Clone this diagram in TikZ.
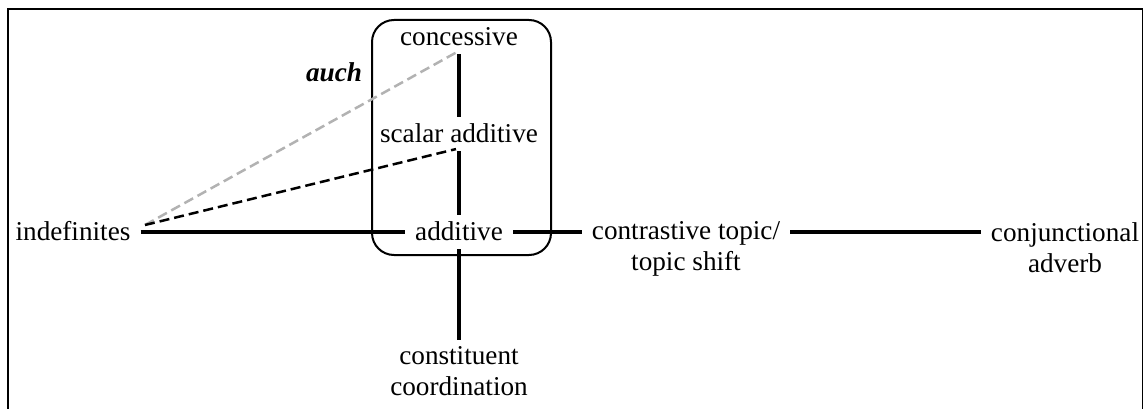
\documentclass[tikz,border=0pt]{standalone}
\usepackage{fontspec}
\setmainfont{Liberation Serif}
\usetikzlibrary{calc}
\begin{document}
\begin{tikzpicture}[x=1pt,y=-1pt,
  lbl/.style={font=\fontsize{27.2}{31.3}\selectfont, inner xsep=10pt, inner ysep=6pt},
  one/.style={lbl, text height=19pt, text depth=2.7pt},
  multi/.style={lbl, align=center, anchor=north},
  conn/.style={line width=3.3pt},
  dashblack/.style={line width=2.5pt, dash pattern=on 10pt off 5pt},
  dashgray/.style={line width=2.5pt, dash pattern=on 10pt off 5pt, draw=gray!60},
  groupbox/.style={draw, line width=2pt, rounded corners=22pt, minimum width=179pt, minimum height=235pt, inner sep=0pt}]
\useasboundingbox (0,0) rectangle (1146,409);
% frame
\draw[line width=1.5pt] (8,409) -- (8,9) -- (1142.5,9) -- (1142.5,409);
% group box
\node[groupbox] (grp) at (461.5,137.5) {};
% nodes
\node[one] (conc) at (459,37) {concessive};
\node[one] (scal) at (459,134) {scalar additive};
\node[one] (add) at (459,232) {additive};
\node[one] (indef) at (73,232) {indefinites};
\node[multi] (contr) at (686,215) {contrastive topic/\\topic shift};
\node[multi] (conj) at (1065,216) {conjunctional\\adverb};
\node[multi] (const) at (459,340) {constituent\\coordination};
\node[font=\fontsize{27.2}{31.3}\selectfont\bfseries\itshape, inner sep=0pt] (auch) at (334,72) {auch};
\coordinate (fan) at (145,225);
% connectors
\draw[dashgray] (fan) -- ($(conc.south)+(-2,-2)$);
\draw[dashblack] (fan) -- ($(scal.south)+(-3,-2)$);
\draw[conn] (indef) -- (add);
\draw[conn] (conc) -- (scal);
\draw[conn] (scal) -- (add);
\draw[conn] (add.south) -- (add.south |- const.north);
\draw[conn] (add.east) -- (add.east -| contr.west);
\draw[conn] (add.east -| contr.east) -- (add.east -| conj.west);
\end{tikzpicture}
\end{document}
